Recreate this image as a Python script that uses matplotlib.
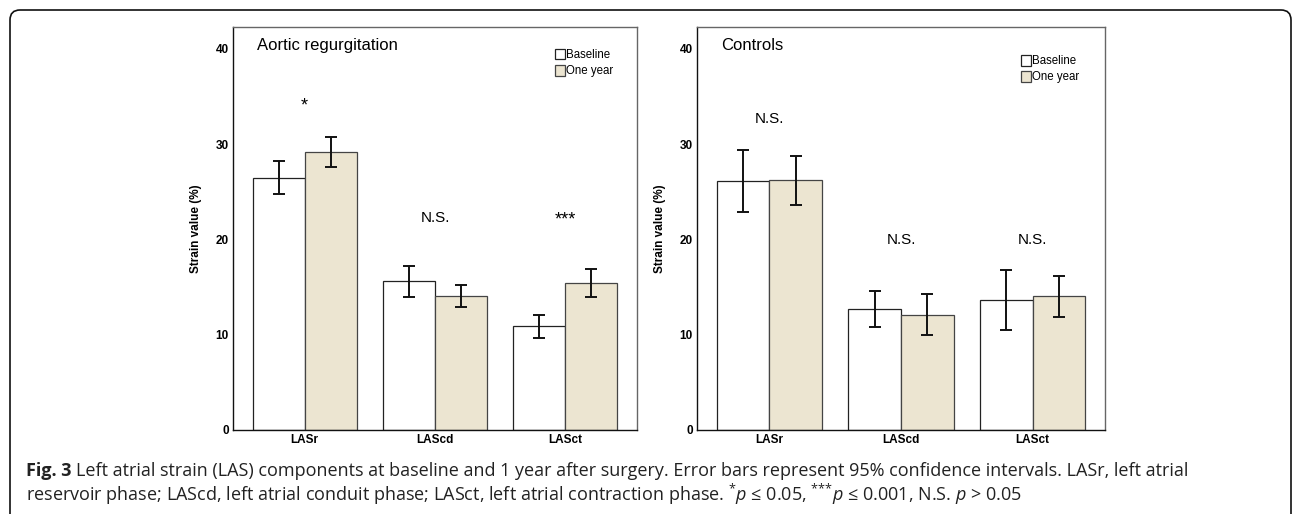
import matplotlib
matplotlib.use("Agg")
import matplotlib.pyplot as plt
from matplotlib.patches import Patch, FancyBboxPatch
from matplotlib.transforms import IdentityTransform
import numpy as np

plt.rcParams['font.family'] = ['Liberation Sans', 'DejaVu Sans']
plt.rcParams['mathtext.fontset'] = 'custom'
plt.rcParams['mathtext.rm'] = 'Open Sans'
plt.rcParams['mathtext.it'] = 'Open Sans:italic'
plt.rcParams['mathtext.bf'] = 'Open Sans:bold'

components = ['LASr', 'LAScd', 'LASct']
series = ['Baseline', 'One year']

# aortic regurgitation group
ar_base = [26.4, 15.6, 10.9]
ar_base_lo = [24.8, 14.0, 9.7]
ar_base_hi = [28.2, 17.2, 12.1]
ar_year = [29.15, 14.1, 15.4]
ar_year_lo = [27.6, 12.9, 14.0]
ar_year_hi = [30.8, 15.2, 16.9]
ar_sig = ['*', 'N.S.', '***']
ar_sig_y = [34.0, 22.2, 22.0]

# controls
ct_base = [26.1, 12.7, 13.6]
ct_base_lo = [22.85, 10.8, 10.5]
ct_base_hi = [29.35, 14.6, 16.8]
ct_year = [26.2, 12.1, 14.05]
ct_year_lo = [23.6, 9.95, 11.9]
ct_year_hi = [28.8, 14.25, 16.2]
ct_sig = ['N.S.', 'N.S.', 'N.S.']
ct_sig_y = [32.6, 19.9, 19.9]

fill_year = '#ece5d1'
W, H = 1293, 514
fig = plt.figure(figsize=(W / 100, H / 100), dpi=100)

def panel(rect, title, base, blo, bhi, year, ylo, yhi, sig, sig_y, leg_xy):
    ax = fig.add_axes(rect)
    x = np.arange(len(components))
    w = 0.4
    ax.bar(x - w / 2, base, w, color='white', edgecolor='#222222', linewidth=0.9)
    ax.bar(x + w / 2, year, w, color=fill_year, edgecolor='#444444', linewidth=0.9)
    b = np.array(base)
    ax.errorbar(x - w / 2, b, yerr=[b - np.array(blo), np.array(bhi) - b],
                fmt='none', ecolor='#111111', elinewidth=1.4, capsize=4.3, capthick=1.4)
    y = np.array(year)
    ax.errorbar(x + w / 2, y, yerr=[y - np.array(ylo), np.array(yhi) - y],
                fmt='none', ecolor='#111111', elinewidth=1.4, capsize=4.3, capthick=1.4)
    for i, s in enumerate(sig):
        fs = 13 if '*' in s else 11
        ax.text(x[i], sig_y[i], s, ha='center', va='center', fontsize=fs)
    ax.set_xlim(-0.55, 2.55)
    ax.set_ylim(0, 42.3)
    ax.set_yticks([0, 10, 20, 30, 40])
    ax.set_xticks(x)
    ax.set_xticklabels(components, fontweight='bold', fontsize=8.5)
    for lab in ax.get_yticklabels():
        lab.set_fontweight('bold')
        lab.set_fontsize(8.5)
    ax.tick_params(length=0, pad=3)
    ax.set_ylabel('Strain value (%)', fontweight='bold', fontsize=8.5, labelpad=10)
    for s in ['left', 'bottom']:
        ax.spines[s].set_color('#111111')
    for s in ['top', 'right']:
        ax.spines[s].set_color('#666666')
    for s in ax.spines.values():
        s.set_linewidth(1.0)
    ax.text(0.06, 0.955, title, transform=ax.transAxes, ha='left', va='center', fontsize=12)
    handles = [Patch(facecolor='white', edgecolor='#222222', linewidth=0.9),
               Patch(facecolor=fill_year, edgecolor='#444444', linewidth=0.9)]
    ax.legend(handles, series, loc='upper left', bbox_to_anchor=leg_xy, frameon=False,
              fontsize=8.3, handlelength=0.85, handleheight=1.0, handletextpad=0.12,
              labelspacing=0.35, borderpad=0, borderaxespad=0)
    return ax

panel([233 / W, 1 - 430 / H, 404 / W, 403 / H], 'Aortic regurgitation',
      ar_base, ar_base_lo, ar_base_hi, ar_year, ar_year_lo, ar_year_hi, ar_sig, ar_sig_y, (0.797, 0.945))
panel([697 / W, 1 - 430 / H, 408 / W, 403 / H], 'Controls',
      ct_base, ct_base_lo, ct_base_hi, ct_year, ct_year_lo, ct_year_hi, ct_sig, ct_sig_y, (0.794, 0.93))

# page frame
frame = FancyBboxPatch((10, -60), 1281, 564, boxstyle='round,pad=0,rounding_size=10',
                       transform=IdentityTransform(), facecolor='none', edgecolor='#111111',
                       linewidth=1.2, clip_on=False)
fig.patches.append(frame)

# caption
cap_font = ['Open Sans', 'DejaVu Sans']
cap_size = 13
t1 = fig.text(26 / W, 1 - 476 / H, 'Fig. 3', fontweight='bold', fontsize=cap_size,
              family=cap_font, color='#222222', va='baseline')
fig.canvas.draw()
bb = t1.get_window_extent()
fig.text((bb.x1 + 4) / W, 1 - 476 / H,
         'Left atrial strain (LAS) components at baseline and 1 year after surgery. '
         'Error bars represent 95% confidence intervals. LASr, left atrial',
         fontsize=cap_size, family=cap_font, color='#222222', va='baseline')
fig.text(26 / W, 1 - 501 / H,
         'reservoir phase; LAScd, left atrial conduit phase; LASct, left atrial contraction phase. '
         r'$^{*}\mathit{p}$ ≤ 0.05, $^{{*}{*}{*}}\mathit{p}$ ≤ 0.001, N.S. $\mathit{p}$ > 0.05',
         fontsize=cap_size, family=cap_font, color='#222222', va='baseline')

fig.savefig('out.png', dpi=100)
